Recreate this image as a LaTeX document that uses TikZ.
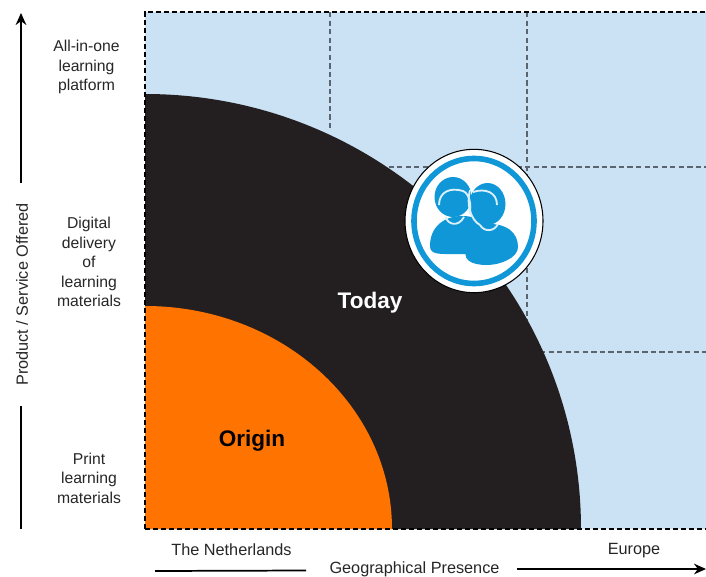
\documentclass[tikz,border=0pt]{standalone}
\usepackage{fontspec}
\setmainfont{Liberation Sans}
\usetikzlibrary{arrows.meta,shapes.geometric}
\definecolor{skyfill}{HTML}{CBE1F4}
\definecolor{inkblack}{HTML}{231F20}
\definecolor{origin}{HTML}{FF7300}
\definecolor{iconblue}{HTML}{0F97D8}
\definecolor{griddash}{HTML}{5A6570}
\tikzset{
  gridline/.style={draw=griddash,dash pattern=on 4pt off 2.4pt,line width=0.95pt},
  frameline/.style={draw=black,dash pattern=on 4pt off 2pt,line width=0.8pt},
  axisline/.style={draw=black,line width=1.3pt},
  axisarrow/.style={axisline,-{Stealth[length=9pt,width=8pt]}},
  lbl/.style={font=\fontsize{11.8}{14.6}\selectfont,text=black!85,align=center,inner sep=0pt},
  axlbl/.style={font=\fontsize{12.2}{14.6}\selectfont,text=black!85,align=center,inner sep=0pt},
  biglbl/.style={font=\fontsize{16.9}{18}\selectfont\bfseries,inner sep=0pt},
  contour/.style={draw=white!85!iconblue,line width=1.4pt}
}
\begin{document}
\begin{tikzpicture}[x=0.75pt,y=-0.75pt]
\useasboundingbox (0,0) rectangle (706,577);
% panel
\fill[skyfill] (145,12) rectangle (706,529);
% grid
\draw[gridline] (330,12) -- (330,130);
\draw[gridline] (527,12) -- (527,352);
\draw[gridline] (380,167) -- (706,167);
\draw[gridline] (540,352) -- (706,352);
% quarter discs
\fill[inkblack] (145,529) -- (145,94) arc[start angle=-90,end angle=0,x radius=436,y radius=435] -- cycle;
\fill[origin] (145,529) -- (145,306) arc[start angle=-90,end angle=0,x radius=247,y radius=223] -- cycle;
% frame
\draw[frameline] (145,529) -- (145,12) -- (706,12);
\draw[frameline] (145,529) -- (706,529);
% icon
\node[ellipse,draw=black,line width=0.8pt,fill=white,minimum width=103.5pt,minimum height=107.5pt,inner sep=0pt] (badge) at (474,221) {};
\draw[iconblue,line width=4.2pt] (badge.center) ellipse[x radius=60,y radius=62.5];
% left person
\fill[iconblue] (430,246) .. controls (430,226) and (445,216) .. (462,216) .. controls (483,216) and (493,228) .. (493,246) .. controls (492,257) and (470,254) .. (455,254) .. controls (440,254) and (430,255) .. (430,246) -- cycle;
\fill[iconblue] (453,197) ellipse[x radius=18.5,y radius=20];
% right person
\fill[iconblue] (469,245) .. controls (469,231) and (478,224) .. (490,224) .. controls (506,224) and (518,232) .. (518,247) .. controls (518,258) and (500,265) .. (487,265) .. controls (472,265) and (459,260) .. (469,245) -- cycle;
\fill[iconblue] (487.5,204) ellipse[x radius=18,y radius=21];
% white contour lines
\draw[contour] (439,205) .. controls (439,192) and (450,187) .. (463,191) .. controls (470,194) and (471,205) .. (470,214);
\draw[contour] (470,190) .. controls (466,205) and (471,220) .. (480,225);
\draw[contour] (473,192) .. controls (485,188) and (497,192) .. (497,205);
\draw[contour] (446,217) .. controls (447,224) and (458,228) .. (464,217);
\draw[contour] (480,225) .. controls (484,232) and (494,232) .. (498,224);
% labels
\node[lbl] (a1) at (86.5,67) {All-in-one\\learning\\platform};
\node[lbl] (a2) at (89,262) {Digital\\delivery\\of\\learning\\materials};
\node[lbl] (a3) at (89,478) {Print\\learning\\materials};
\node[axlbl,rotate=90] (yaxis) at (22,294.5) {Product / Service Offered};
\node[axlbl] (nl) at (231.5,550) {The Netherlands};
\node[axlbl] (eu) at (634,551) {Europe};
\node[axlbl] (xaxis) at (414.5,569.5) {Geographical Presence};
\node[biglbl,text=white] (today) at (370,303) {Today};
\node[biglbl,text=black] (orig) at (252,441) {Origin};
% axes
\coordinate (ytop) at (21,13);
\coordinate (ybot) at (21,529);
\coordinate (xleft) at (155,571);
\coordinate (xright) at (706,569);
\draw[axisarrow] (21,183) -- (ytop);
\draw[axisline] (21,406) -- (ybot);
\draw[axisline] (xleft) -- (306,570.5);
\draw[axisarrow] (517,569) -- (xright);
\end{tikzpicture}
\end{document}
